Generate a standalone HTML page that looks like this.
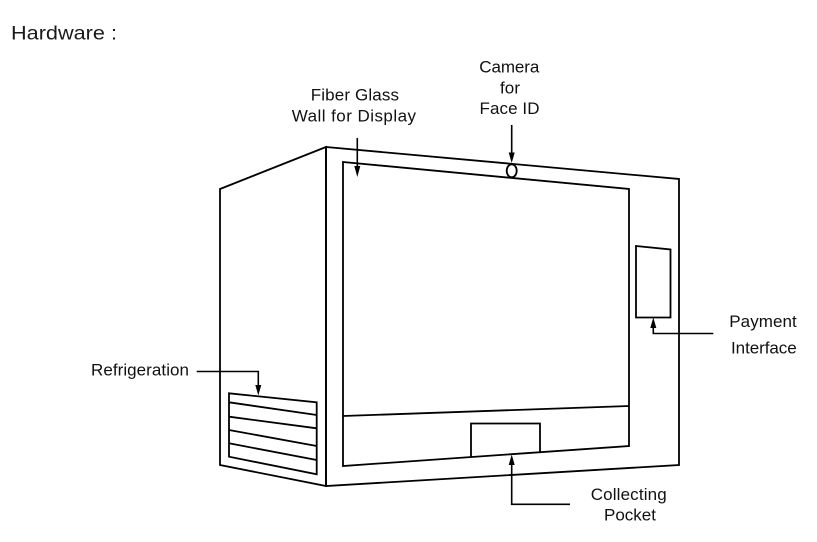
<!DOCTYPE html>
<html>
<head>
<meta charset="utf-8">
<style>
  html, body { margin: 0; padding: 0; background: #ffffff; }
  body { width: 817px; height: 542px; overflow: hidden; }
  svg { display: block; }
  text { font-family: "Liberation Sans", Arial, sans-serif; fill: #111; }
</style>
</head>
<body>
<svg width="817" height="542" viewBox="0 0 817 542" xmlns="http://www.w3.org/2000/svg">
  <rect width="817" height="542" fill="#ffffff"/>

  <!-- Title -->
  <text x="11" y="39.5" font-size="19.5" textLength="106" lengthAdjust="spacingAndGlyphs" style="fill:#1a1a1a">Hardware :</text>

  <g fill="none" stroke="#000" stroke-width="1.8" stroke-linejoin="miter">
    <!-- left side panel -->
    <polygon points="220,189 326,147 326,486 220,465"/>
    <!-- front face outer -->
    <polygon points="326,147 679,179 679,465 326,486"/>
    <!-- inner display window -->
    <polygon points="343,162 629,189 629,446 343,466"/>
    <!-- divider -->
    <line x1="343" y1="416" x2="629" y2="406"/>
    <!-- collecting pocket -->
    <polyline points="471,457 471,423.5 540,423.5 540,452.2"/>
    <!-- payment interface -->
    <polygon points="636,246 670.5,249.5 670.5,317.5 636,317.5"/>
    <!-- camera -->
    <ellipse cx="511.7" cy="170.8" rx="5" ry="6.5" fill="#fff"/>
    <!-- refrigeration vent -->
    <polygon points="229,393.3 316.7,402.3 316.7,474.3 229,456.7"/>
    <line x1="229" y1="402.3" x2="316.7" y2="415"/>
    <line x1="229" y1="416.7" x2="316.7" y2="428.3"/>
    <line x1="229" y1="430" x2="316.7" y2="446"/>
    <line x1="229" y1="443.3" x2="316.7" y2="460"/>
  </g>

  <!-- connectors -->
  <g fill="none" stroke="#000" stroke-width="1.6">
    <line x1="357.3" y1="138" x2="357.3" y2="167"/>
    <line x1="511.7" y1="125" x2="511.7" y2="154"/>
    <polyline points="196.7,371.5 258.3,371.5 258.3,386"/>
    <polyline points="713.3,333.5 653.3,333.5 653.3,327"/>
    <polyline points="570,504.3 511.7,504.3 511.7,464"/>
  </g>
  <g fill="#000" stroke="none">
    <polygon points="354.3,166 360.3,166 357.3,177"/>
    <polygon points="508.7,152.5 514.7,152.5 511.7,163"/>
    <polygon points="255.3,385 261.3,385 258.3,395.5"/>
    <polygon points="650.3,328 656.3,328 653.3,317.5"/>
    <polygon points="508.7,465 514.7,465 511.7,454.5"/>
  </g>

  <!-- labels -->
  <g font-size="17" lengthAdjust="spacingAndGlyphs">
    <text x="310.7" y="100.7" textLength="88.3">Fiber Glass</text>
    <text x="291.7" y="121.7" textLength="124.3">Wall for Display</text>
    <text x="479.3" y="72.3" textLength="60">Camera</text>
    <text x="500" y="93.3" textLength="20">for</text>
    <text x="479.5" y="114" textLength="60">Face ID</text>
    <text x="729.3" y="326.8" textLength="67.4">Payment</text>
    <text x="731" y="353.3" textLength="65.7">Interface</text>
    <text x="590.7" y="500" textLength="76">Collecting</text>
    <text x="604" y="520.5" textLength="52">Pocket</text>
    <text x="91" y="375.7" textLength="98">Refrigeration</text>
  </g>
</svg>
</body>
</html>
